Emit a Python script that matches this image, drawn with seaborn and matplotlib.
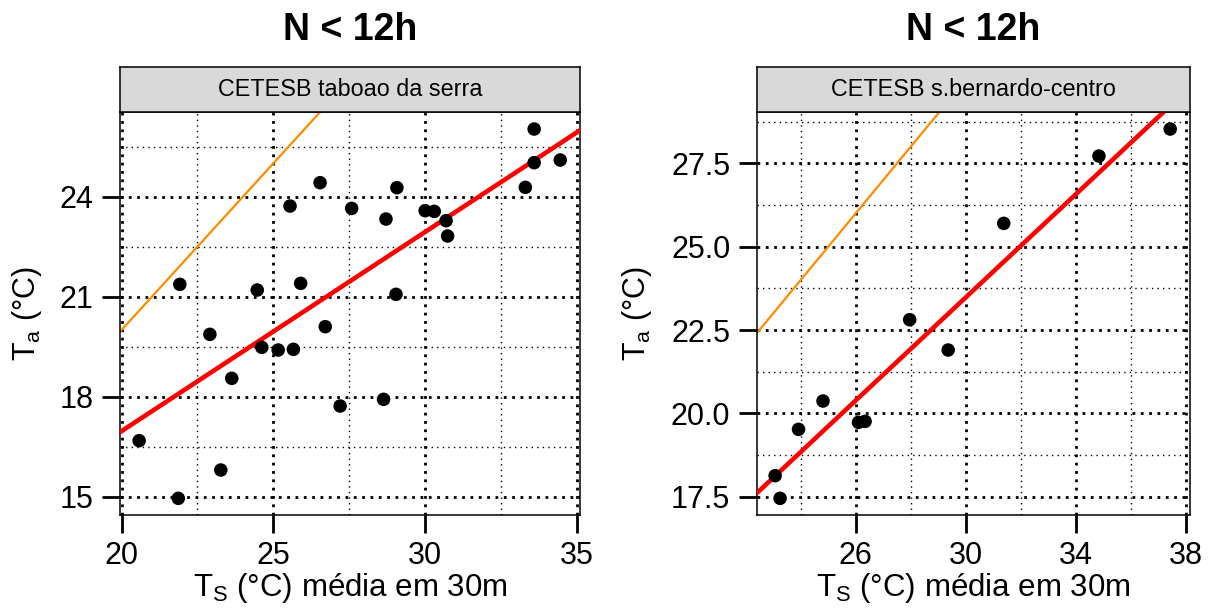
import matplotlib
matplotlib.use("Agg")
import matplotlib.pyplot as plt
import numpy as np
import pandas as pd
import seaborn as sns

# ----------------
# data
# ----------------
title = "N < 12h"
xlabel = "T$_\\mathrm{S}$ (°C) média em 30m"
ylabel = "T$_\\mathrm{a}$ (°C)"

left_station = "CETESB taboao da serra"
left_ts = [20.58, 21.87, 21.92, 22.91, 23.27, 23.63, 24.47, 24.62, 25.16, 25.66,
           25.55, 25.90, 26.54, 26.71, 27.20, 27.58, 28.63, 28.71, 29.07, 29.04,
           30.00, 30.30, 30.69, 30.74, 33.30, 33.59, 33.59, 34.45]
left_ta = [16.68, 14.95, 21.37, 19.87, 15.80, 18.55, 21.20, 19.48, 19.40, 19.42,
           23.72, 21.40, 24.42, 20.10, 17.72, 23.65, 17.92, 23.33, 24.27, 21.07,
           23.58, 23.56, 23.28, 22.82, 24.28, 26.03, 25.02, 25.10]
left_xticks = [20, 25, 30, 35]
left_xminor = [22.5, 27.5, 32.5]
left_yticks = [15, 18, 21, 24]
left_yminor = [16.5, 19.5, 22.5, 25.5]
left_xlim = (19.95, 35.1)
left_ylim = (14.45, 26.55)

right_station = "CETESB s.bernardo-centro"
right_ts = [23.07, 23.25, 23.92, 24.81, 26.10, 26.34, 27.96, 29.36, 31.38, 34.84, 37.43]
right_ta = [18.13, 17.45, 19.52, 20.37, 19.73, 19.76, 22.81, 21.90, 25.70, 27.72, 28.53]
right_xticks = [26, 30, 34, 38]
right_xminor = [24, 28, 32, 36]
right_yticks = [17.5, 20.0, 22.5, 25.0, 27.5]
right_yminor = [18.75, 21.25, 23.75, 26.25, 28.75]
right_xlim = (22.4, 38.15)
right_ylim = (16.95, 29.05)

sns.set_theme(style="white", rc={"text.color": "black", "axes.labelcolor": "black",
                                 "xtick.color": "black", "ytick.color": "black"})
plt.rcParams["font.family"] = ["Liberation Sans", "DejaVu Sans"]
plt.rcParams["mathtext.fontset"] = "custom"
plt.rcParams["mathtext.rm"] = "Liberation Sans"
plt.rcParams["mathtext.it"] = "Liberation Sans:italic"

W, H = 1213, 613
fig = plt.figure(figsize=(W / 100, H / 100), dpi=100)


def px_box(x0, x1, ytop, ybot):
    return [x0 / W, 1 - ybot / H, (x1 - x0) / W, (ybot - ytop) / H]


def panel(x0, x1, ts, ta, station, xticks, xminor, yticks, yminor,
          xlim, ylim, yfmt, ylab_x):
    ax = fig.add_axes(px_box(x0, x1, 111.7, 515))
    ax.set_xlim(*xlim)
    ax.set_ylim(*ylim)
    df = pd.DataFrame({"ts": ts, "ta": ta})

    # grid first so marks sit on top
    for v in xticks:
        ax.axvline(v, color="black", lw=2, dashes=(1, 2), zorder=1)
    for v in xminor:
        ax.axvline(v, color="black", lw=1, dashes=(1, 3), zorder=1)
    for v in yticks:
        ax.axhline(v, color="black", lw=2, dashes=(1, 2), zorder=1)
    for v in yminor:
        ax.axhline(v, color="black", lw=1, dashes=(1, 3), zorder=1)

    ax.axline((0, 0), slope=1, color="darkorange", lw=1.6, zorder=2)
    sns.regplot(data=df, x="ts", y="ta", ax=ax, scatter=False, ci=None,
                truncate=False, line_kws={"color": "red", "lw": 3.3, "zorder": 3})
    sns.scatterplot(data=df, x="ts", y="ta", ax=ax, color="black", s=95,
                    edgecolor="none", zorder=4)
    ax.set_xlim(*xlim)
    ax.set_ylim(*ylim)

    ax.set_xticks(xticks)
    ax.set_yticks(yticks)
    ax.set_yticklabels([yfmt.format(v) for v in yticks])
    ax.tick_params(axis="both", which="major", direction="out", length=13,
                   width=2, color="black", labelcolor="black", labelsize=22,
                   pad=6, bottom=True, left=True, top=False, right=False)
    for s in ax.spines.values():
        s.set_color("black")
        s.set_linewidth(1.1)

    ax.set_xlabel(xlabel, fontsize=22.5, color="black")
    ax.set_ylabel(ylabel, fontsize=22, color="black")
    ax.xaxis.set_label_coords(0.5, -0.14)
    ax.yaxis.set_label_coords(ylab_x, 0.5)

    # strip on top of the panel
    strip = fig.add_axes(px_box(x0, x1, 67, 111.7))
    strip.set_facecolor("#D9D9D9")
    strip.set_xticks([])
    strip.set_yticks([])
    for s in strip.spines.values():
        s.set_color("black")
        s.set_linewidth(1.1)
    strip.text(0.5, 0.5, station, ha="center", va="center", fontsize=16.8,
               color="black", transform=strip.transAxes)

    fig.text((x0 + x1) / 2 / W, 1 - 30 / H, title, ha="center", va="center",
             fontsize=27, fontweight="bold", color="black")
    return ax


panel(120, 580, left_ts, left_ta, left_station, left_xticks, left_xminor,
      left_yticks, left_yminor, left_xlim, left_ylim, "{:g}", -0.165)
panel(756.7, 1190, right_ts, right_ta, right_station, right_xticks, right_xminor,
      right_yticks, right_yminor, right_xlim, right_ylim, "{:.1f}", -0.237)

fig.savefig("out.png", dpi=100)
